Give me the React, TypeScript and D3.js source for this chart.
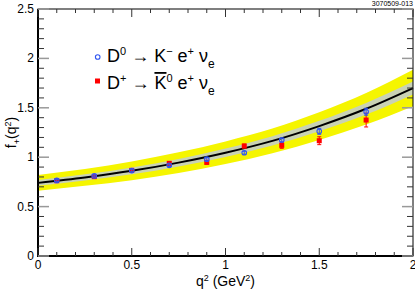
import * as d3 from "d3";
import React from "react";

// q^2 bins (GeV^2) and measured form factor points
const qBins = [0.1, 0.3, 0.5, 0.7, 0.9, 1.1, 1.3, 1.5, 1.75];
const d0Vals = [0.765, 0.81, 0.865, 0.918, 0.98, 1.045, 1.174, 1.262, 1.46];
const d0Errs = [0.01, 0.01, 0.012, 0.012, 0.015, 0.015, 0.02, 0.03, 0.035];
const dpVals = [0.762, 0.803, 0.867, 0.938, 0.948, 1.113, 1.12, 1.167, 1.376];
const dpErrs = [0.012, 0.012, 0.015, 0.015, 0.02, 0.02, 0.03, 0.04, 0.07];

// theory curve and its bands
const curveQ = [0, 0.25, 0.5, 0.75, 1, 1.25, 1.5, 1.75, 2];
const curveF = [0.74, 0.795, 0.862, 0.945, 1.045, 1.165, 1.315, 1.49, 1.7];
const yellowHi = [0.82, 0.88, 0.957, 1.05, 1.16, 1.29, 1.455, 1.65, 1.885];
const yellowLo = [0.66, 0.71, 0.767, 0.84, 0.93, 1.04, 1.175, 1.33, 1.515];
const grayHi = [0.77, 0.827, 0.897, 0.983, 1.087, 1.212, 1.368, 1.549, 1.765];
const grayLo = [0.71, 0.763, 0.827, 0.907, 1.003, 1.118, 1.262, 1.431, 1.635];

const xMajor = [0, 0.5, 1, 1.5, 2];
const yMajor = [0, 0.5, 1, 1.5, 2, 2.5];

const W = 415;
const H = 291;
const FONT = "'Liberation Sans', Arial, Helvetica, sans-serif";

export default function App() {
  const x = d3.scaleLinear().domain([0, 2]).range([38, 413]);
  const y = d3.scaleLinear().domain([0, 2.5]).range([256, 9]);

  const idx = d3.range(curveQ.length);
  const band = (lo: number[], hi: number[]) =>
    d3
      .area<number>()
      .x((i) => x(curveQ[i]))
      .y0((i) => y(lo[i]))
      .y1((i) => y(hi[i]))
      .curve(d3.curveMonotoneX)(idx) || "";
  const line =
    d3
      .line<number>()
      .x((i) => x(curveQ[i]))
      .y((i) => y(curveF[i]))
      .curve(d3.curveMonotoneX)(idx) || "";

  const xMinor = d3.range(0, 2.0001, 0.1).filter((v) => Math.abs(v * 2 - Math.round(v * 2)) > 1e-6);
  const yMinor = d3.range(0, 2.5001, 0.1).filter((v) => Math.abs(v * 2 - Math.round(v * 2)) > 1e-6);

  const [x0, x1] = x.range();
  const [y0, y1] = y.range();

  const errBar = (q: number, v: number, e: number, color: string, key: string) => (
    <g key={key} stroke={color} strokeWidth={1}>
      <line x1={x(q)} x2={x(q)} y1={y(v - e)} y2={y(v + e)} />
      <line x1={x(q) - 2} x2={x(q) + 2} y1={y(v - e)} y2={y(v - e)} />
      <line x1={x(q) - 2} x2={x(q) + 2} y1={y(v + e)} y2={y(v + e)} />
    </g>
  );

  return (
    <svg width={W} height={H} style={{ position: "absolute", left: 0, top: 0 }} fontFamily={FONT}>
      <rect width={W} height={H} fill="#fff" />

      <path d={band(yellowLo, yellowHi)} fill="#f5f500" />
      <path d={band(grayLo, grayHi)} fill="#c9d2b4" />
      <path d={line} fill="none" stroke="#000" strokeWidth={2} />

      {/* D+ points */}
      {qBins.map((q, i) => errBar(q, dpVals[i], dpErrs[i], "#f00", "pe" + i))}
      {qBins.map((q, i) => (
        <rect key={"p" + i} x={x(q) - 2.5} y={y(dpVals[i]) - 2.5} width={5} height={5} fill="#f00" />
      ))}
      {/* D0 points */}
      {qBins.map((q, i) => errBar(q, d0Vals[i], d0Errs[i], "#2f55f0", "ze" + i))}
      {qBins.map((q, i) => (
        <circle key={"z" + i} cx={x(q)} cy={y(d0Vals[i])} r={2.3} fill="none" stroke="#2f55f0" strokeWidth={1.1} />
      ))}

      {/* frame */}
      <rect x={x0} y={y1} width={x1 - x0} height={y0 - y1} fill="none" stroke="#000" strokeWidth={1} />
      <line x1={x0} x2={x0} y1={y1} y2={y0 + 1} stroke="#000" strokeWidth={2} />
      <line x1={x0 - 1} x2={x1} y1={y0} y2={y0} stroke="#000" strokeWidth={2} />

      {/* ticks */}
      <g stroke="#333" strokeWidth={1}>
        {xMajor.map((v) => (
          <g key={"xM" + v}>
            <line x1={x(v)} x2={x(v)} y1={y0} y2={y0 - 8} />
            <line x1={x(v)} x2={x(v)} y1={y1} y2={y1 + 8} />
          </g>
        ))}
        {xMinor.map((v) => (
          <g key={"xm" + v}>
            <line x1={x(v)} x2={x(v)} y1={y0} y2={y0 - 4} />
            <line x1={x(v)} x2={x(v)} y1={y1} y2={y1 + 4} />
          </g>
        ))}
        {yMajor.map((v) => (
          <g key={"yM" + v}>
            <line x1={x0} x2={x0 + 11} y1={y(v)} y2={y(v)} stroke="#999" strokeWidth={1.5} />
            <line x1={x1} x2={x1 - 11} y1={y(v)} y2={y(v)} stroke="#999" strokeWidth={1.5} />
          </g>
        ))}
        {yMinor.map((v) => (
          <g key={"ym" + v}>
            <line x1={x0} x2={x0 + 6} y1={y(v)} y2={y(v)} />
            <line x1={x1} x2={x1 - 6} y1={y(v)} y2={y(v)} />
          </g>
        ))}
      </g>

      {/* tick labels */}
      <g fontSize={12} fill="#000">
        {xMajor.map((v) => (
          <text key={"xl" + v} x={x(v)} y={269} textAnchor="middle">
            {String(v)}
          </text>
        ))}
        {yMajor.map((v) => (
          <text key={"yl" + v} x={34} y={y(v) + 4} textAnchor="end">
            {String(v)}
          </text>
        ))}
      </g>

      {/* axis titles */}
      <text x={(x0 + x1) / 2} y={286} textAnchor="middle" fontSize={14}>
        q<tspan fontSize={9} dy={-5}>2</tspan>
        <tspan dy={5}> (GeV</tspan>
        <tspan fontSize={9} dy={-5}>2</tspan>
        <tspan dy={5}>)</tspan>
      </text>
      <text transform={`translate(16,${(y0 + y1) / 2}) rotate(-90)`} textAnchor="middle" fontSize={14}>
        f<tspan fontSize={9} dy={4}>+</tspan>
        <tspan dy={-4}>(q</tspan>
        <tspan fontSize={9} dy={-5}>2</tspan>
        <tspan dy={5}>)</tspan>
      </text>

      <text x={413} y={6} textAnchor="end" fontSize={7}>
        3070509-013
      </text>

      {/* legend */}
      <circle cx={97.7} cy={57} r={2.3} fill="none" stroke="#2f55f0" strokeWidth={1.1} />
      <text x={107} y={62} fontSize={18}>
        D<tspan fontSize={11} dy={-7}>0</tspan>
        <tspan dy={7}> → K</tspan>
        <tspan fontSize={11} dy={-7}>−</tspan>
        <tspan dy={7}> e</tspan>
        <tspan fontSize={11} dy={-7}>+</tspan>
        <tspan dy={7}> ν</tspan>
        <tspan fontSize={12} dy={6}>e</tspan>
      </text>
      <rect x={95} y={78.5} width={5} height={5} fill="#f00" />
      <text x={107} y={89} fontSize={18}>
        D<tspan fontSize={11} dy={-7}>+</tspan>
        <tspan dy={7}> → </tspan>
        <tspan style={{ textDecoration: "overline" }}>K</tspan>
        <tspan fontSize={11} dy={-7}>0</tspan>
        <tspan dy={7}> e</tspan>
        <tspan fontSize={11} dy={-7}>+</tspan>
        <tspan dy={7}> ν</tspan>
        <tspan fontSize={12} dy={6}>e</tspan>
      </text>
    </svg>
  );
}
